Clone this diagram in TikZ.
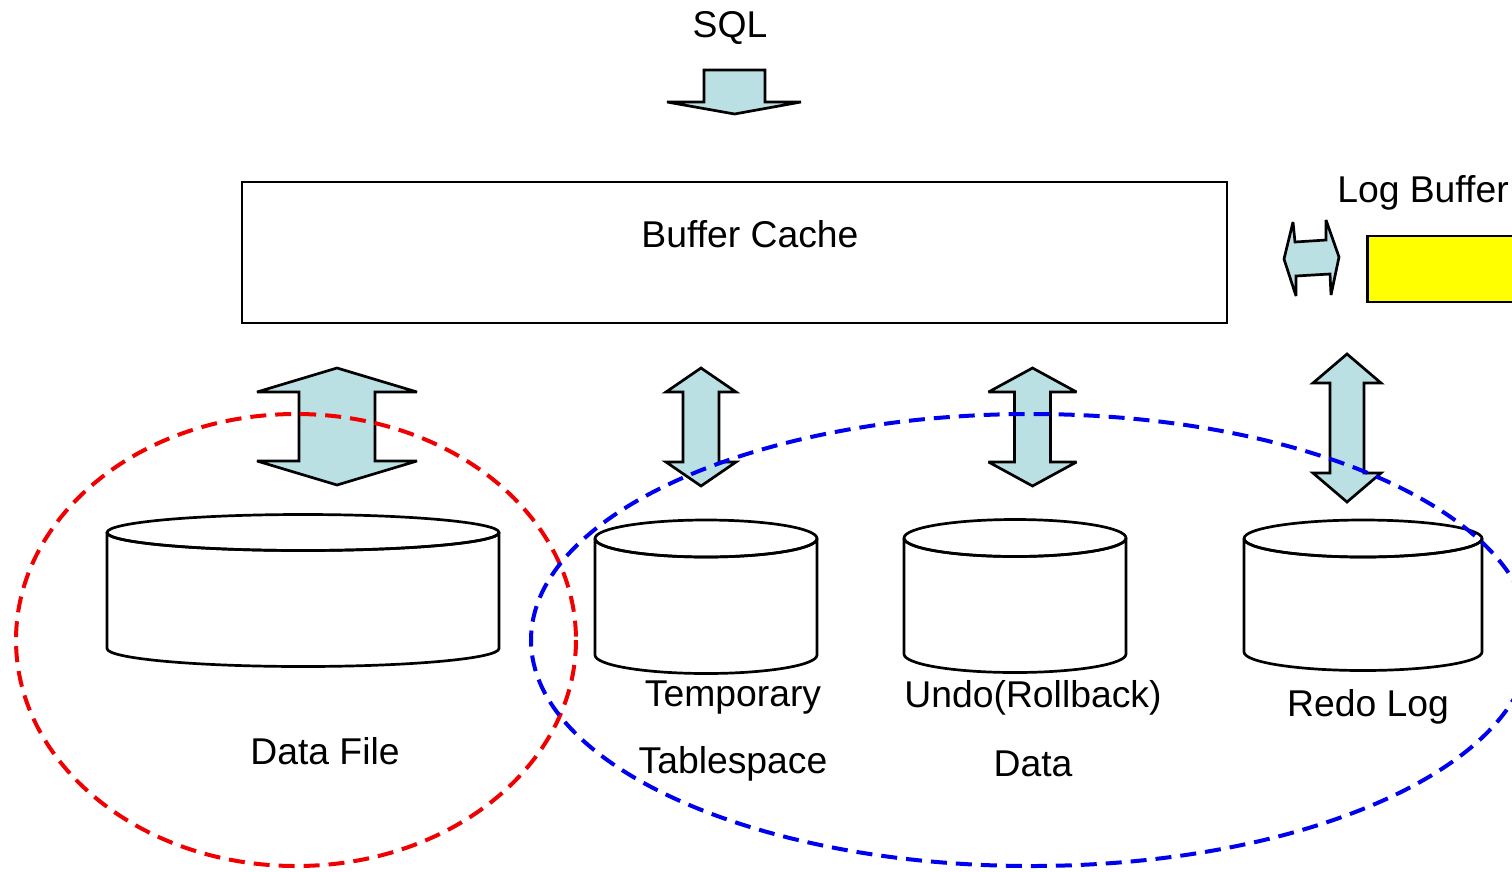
\documentclass[tikz,border=0pt]{standalone}
\usepackage{fontspec}
\setmainfont{Liberation Sans}
\definecolor{arrowfill}{RGB}{187,224,227}
\definecolor{bufyellow}{RGB}{255,255,0}
\definecolor{dashred}{RGB}{240,0,0}
\definecolor{dashblue}{RGB}{0,0,240}
\tikzset{
  lbl/.style={font=\fontsize{37.3}{44}\selectfont, inner sep=0pt},
  outline/.style={draw=black, line width=2.7pt, line join=miter, miter limit=4},
  blockarrow/.style={outline, fill=arrowfill},
  disk/.style={outline, fill=white},
  group/.style={line width=4pt, dash pattern=on 16pt off 9pt},
}
% vertical double block arrow: centre x, top y, bottom y, head half width, shaft half width, head length
\newcommand\vdblarrow[6]{%
  \draw[blockarrow] (#1,#2) -- ({#1+#4},{#2+#6}) -- ({#1+#5},{#2+#6}) -- ({#1+#5},{#3-#6})
    -- ({#1+#4},{#3-#6}) -- (#1,#3) -- ({#1-#4},{#3-#6}) -- ({#1-#5},{#3-#6})
    -- ({#1-#5},{#2+#6}) -- ({#1-#4},{#2+#6}) -- cycle;}
% disk cylinder: left x, right x, top centre y, bottom centre y, end radius, name
\newcommand\diskcyl[6]{%
  \draw[disk] (#1,#3) -- (#1,#4) arc[start angle=180, end angle=0, x radius={(#2-#1)/2}, y radius=#5]
    -- (#2,#3) arc[start angle=0, end angle=180, x radius={(#2-#1)/2}, y radius=#5];
  \draw[outline] ({(#1+#2)/2},#3) ellipse[x radius={(#2-#1)/2}, y radius=#5];
  \coordinate (#6) at ({(#1+#2)/2},{(#3+#4)/2});}
\begin{document}
\begin{tikzpicture}[x=1pt, y=-1pt]
\useasboundingbox (0,0) rectangle (1512,871);

% incoming SQL
\node[lbl] (sql) at (730,28) {SQL};
\draw[blockarrow] (704,70) -- (765,70) -- (765,102) -- (801,102) -- (734.5,114)
  -- (667,102) -- (704,102) -- cycle;

% buffer cache and log buffer
\node[outline, minimum width=985pt, minimum height=141pt, inner sep=0pt] (cache) at (734.5,252.5) {};
\node[lbl] (cachetext) at (750,234) {Buffer Cache};
\node[lbl] (logtext) at (1423,193) {Log Buffer};
\node[outline, fill=bufyellow, minimum width=170pt, minimum height=66pt, inner sep=0pt, anchor=west] (logbuf) at (1366,269) {};
\draw[blockarrow] (1284,259) -- (1293,222) -- (1295,242) -- (1326,240) -- (1326,220)
  -- (1339,257) -- (1331,295) -- (1330,274) -- (1296,276) -- (1296,296) -- cycle;

% disks
\diskcyl{107}{499}{532.5}{648.5}{18}{datafile}
\diskcyl{595}{817}{538.5}{655}{18.5}{temp}
\diskcyl{904}{1126}{538}{654}{18.5}{undo}
\diskcyl{1244}{1482}{538.5}{652}{18.5}{redo}

\node[lbl] (datalbl) at (325,751) {Data File};
\node[lbl] (templbl1) at (733,698) {Temporary};
\node[lbl] (templbl2) at (733,764) {Tablespace};
\node[lbl] (undolbl1) at (1033,698) {Undo(Rollback)};
\node[lbl] (undolbl2) at (1033,764) {Data};
\node[lbl] (redolbl) at (1368,707) {Redo Log};

% transfers between cache and disks
\vdblarrow{337}{368}{485}{80}{38}{24}
\vdblarrow{701}{368}{486}{35}{18}{24}
\vdblarrow{1032.5}{368}{486}{44}{18}{24}
\vdblarrow{1347}{354}{502}{34}{17}{29}

% groupings
\draw[group, draw=dashred] (296,640) ellipse[x radius=280, y radius=226];
\draw[group, draw=dashblue] (1031,640) ellipse[x radius=500, y radius=226];
\end{tikzpicture}
\end{document}
